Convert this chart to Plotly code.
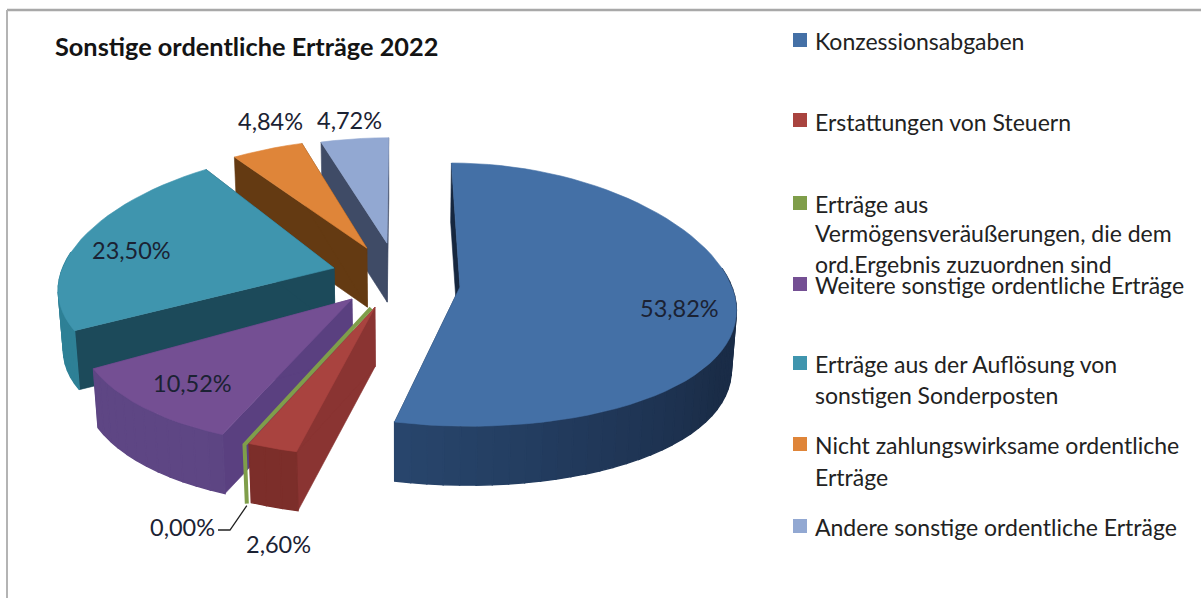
import math
import plotly.graph_objects as go

TITLE = "Sonstige ordentliche Erträge 2022"
CATEGORIES = [
    "Konzessionsabgaben",
    "Erstattungen von Steuern",
    "Erträge aus Vermögensveräußerungen, die dem ord.Ergebnis zuzuordnen sind",
    "Weitere sonstige ordentliche Erträge",
    "Erträge aus der Auflösung von sonstigen Sonderposten",
    "Nicht zahlungswirksame ordentliche Erträge",
    "Andere sonstige ordentliche Erträge",
]
VALUES = [53.82, 2.60, 0.00, 10.52, 23.50, 4.84, 4.72]

LEGEND_LINES = [
    ["Konzessionsabgaben"],
    ["Erstattungen von Steuern"],
    ["Erträge aus", "Vermögensveräußerungen, die dem", "ord.Ergebnis zuzuordnen sind"],
    ["Weitere sonstige ordentliche Erträge"],
    ["Erträge aus der Auflösung von", "sonstigen Sonderposten"],
    ["Nicht zahlungswirksame ordentliche", "Erträge"],
    ["Andere sonstige ordentliche Erträge"],
]

# ---- styling -------------------------------------------------------------
TOP_COLORS = ["#4470a6", "#a9433f", "#7f9e4a", "#744f93", "#3f95ae", "#df8539", "#92a8d2"]
RADIAL_COLORS = ["#16273f", "#8a3432", "#7f9e4a", "#5a4080", "#1c4a5a", "#643a12", "#3f4b66"]
WALL_NEAR = ["#2b4b75", "#7c2e2a", "#7f9e4a", "#5e4684", "#2e8096", "#8a5020", "#5d7099"]
WALL_FAR = ["#1a2c47", "#7c2e2a", "#7f9e4a", "#4f3a74", "#2e8096", "#8a5020", "#5d7099"]
# pull of every slice in the pie plane (sideways px, depth in radii)
PULL_X = [60.5, -24.7, -28.5, -47.8, -68.0, -35.0, -13.8]
PULL_Z = [0.0, 0.152, 0.159, 0.091, -0.145, -0.30, -0.34]
SCALE_X = [0.98, 0.95, 0.95, 0.96, 1.0, 1.02, 1.0]
SCALE_Z = [1.0, 1.05, 1.05, 1.05, 0.97, 0.91, 0.88]
DRAW_ORDER = [6, 5, 4, 3, 0, 1, 2]

RADIUS = 280.0
DEPTH = 59.0
VANISH_X = 400.0
HORIZON_Y = 287.0
SLOPE, CURVE = 131.6, 7.6
PERSP_Y, PERSP = 295.0, 880.0
BOTTOM_NARROW = 0.985


def project(x_plane, z_plane, bottom=False):
    y = HORIZON_Y + SLOPE * z_plane + CURVE * z_plane ** 2
    s = 1 + (y - PERSP_Y) / PERSP
    x = VANISH_X + x_plane * s
    if bottom:
        x = VANISH_X + (x - VANISH_X) * BOTTOM_NARROW
        y += DEPTH
    return x, y


def rim(i, deg, bottom=False):
    a = math.radians(deg)
    return project(PULL_X[i] + RADIUS * SCALE_X[i] * math.sin(a),
                   PULL_Z[i] - SCALE_Z[i] * math.cos(a), bottom)


def apex(i, bottom=False):
    return project(PULL_X[i], PULL_Z[i], bottom)


def mix(c1, c2, t):
    a = [int(c1[k:k + 2], 16) for k in (1, 3, 5)]
    b = [int(c2[k:k + 2], 16) for k in (1, 3, 5)]
    return "#%02x%02x%02x" % tuple(round(p + (q - p) * t) for p, q in zip(a, b))


fig = go.Figure()


def poly(points, color, line=0.6):
    fig.add_trace(go.Scatter(
        x=[p[0] for p in points] + [points[0][0]],
        y=[p[1] for p in points] + [points[0][1]],
        mode="lines", fill="toself", fillcolor=color,
        line=dict(color=color, width=line),
        hoverinfo="skip", showlegend=False))


total = sum(VALUES)
starts, ends, run = [], [], 0.0
for v in VALUES:
    starts.append(run)
    run += v / total * 360
    ends.append(run)

for i in DRAW_ORDER:
    a0, a1 = starts[i], ends[i]
    if VALUES[i] == 0:
        pts = [apex(i), rim(i, a0), rim(i, a0, True)]
        fig.add_trace(go.Scatter(x=[p[0] for p in pts], y=[p[1] for p in pts], mode="lines",
                                 line=dict(color=TOP_COLORS[i], width=4),
                                 hoverinfo="skip", showlegend=False))
        continue
    n = max(2, int((a1 - a0) / 3))
    angs = [a0 + (a1 - a0) * k / n for k in range(n + 1)]
    # radial walls
    for edge in (a0, a1):
        poly([apex(i), rim(i, edge), rim(i, edge, True), apex(i, True)], RADIAL_COLORS[i])
    # outer wall as shaded strips
    for k in range(n):
        mid = (angs[k] + angs[k + 1]) / 2
        if math.cos(math.radians(mid)) > 0.15:
            continue
        t = min(1.0, max(0.0, (210 - mid) / 90))
        poly([rim(i, angs[k]), rim(i, angs[k + 1]),
              rim(i, angs[k + 1], True), rim(i, angs[k], True)],
             mix(WALL_NEAR[i], WALL_FAR[i], t), line=1.4)
    # top face
    poly([apex(i)] + [rim(i, a) for a in angs], TOP_COLORS[i])

# leader line of the 0,00 % label
end = rim(2, starts[2], True)
fig.add_trace(go.Scatter(x=[218, 230, end[0]], y=[530, 530, end[1] + 2], mode="lines",
                         line=dict(color="#222222", width=1.3),
                         hoverinfo="skip", showlegend=False))

# ---- data labels ---------------------------------------------------------
LABEL_X = [679, 278, 182, 192, 131, 270, 349]
LABEL_Y = [308, 544, 527, 383, 250, 121, 120]
annotations = []
for v, lx, ly in zip(VALUES, LABEL_X, LABEL_Y):
    annotations.append(dict(x=lx, y=ly, xref="x", yref="y", showarrow=False,
                            text=f"{v:.2f}".replace(".", ",") + "%",
                            font=dict(family="Lato", size=23.5, color="#1b2233")))

# ---- legend --------------------------------------------------------------
LEGEND_Y = [[41], [122], [204, 233, 264], [285], [364, 395], [445, 477], [527]]
MARKER_Y = [40, 120, 203, 284, 363, 444, 526]
fig.add_trace(go.Scatter(x=[800] * 7, y=MARKER_Y, mode="markers",
                         marker=dict(symbol="square", size=14, color=TOP_COLORS, line=dict(width=0)),
                         hoverinfo="skip", showlegend=False))
for lines, ys in zip(LEGEND_LINES, LEGEND_Y):
    for line, ly in zip(lines, ys):
        annotations.append(dict(x=813, y=ly, xref="x", yref="y", xanchor="left", showarrow=False,
                                text=line, font=dict(family="Lato", size=23, color="#222222")))

annotations.append(dict(x=53, y=46, xref="x", yref="y", xanchor="left", showarrow=False,
                        text=f"<b>{TITLE}</b>", font=dict(family="Lato", size=25.3, color="#141414")))

fig.update_layout(
    width=1201, height=598, margin=dict(l=0, r=0, t=0, b=0),
    paper_bgcolor="white", plot_bgcolor="white", showlegend=False,
    xaxis=dict(range=[0, 1201], visible=False, fixedrange=True),
    yaxis=dict(range=[598, 0], visible=False, fixedrange=True),
    annotations=annotations,
    shapes=[
        dict(type="line", xref="x", yref="y", x0=7, x1=1201, y0=10, y1=10,
             line=dict(color="#a8a8a8", width=2.5)),
        dict(type="line", xref="x", yref="y", x0=7, x1=7, y0=10, y1=598,
             line=dict(color="#b4b4b4", width=2)),
    ],
)
fig.write_html("out.html", config={"displayModeBar": False},
               post_script="document.body.style.margin='0';document.documentElement.style.overflow='hidden';")
